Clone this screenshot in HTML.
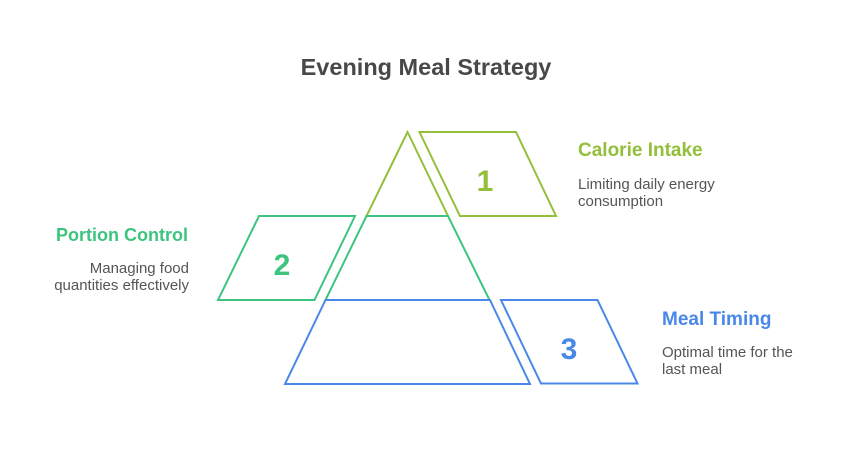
<!DOCTYPE html>
<html><head><meta charset="utf-8"><style>
html,body{margin:0;padding:0;background:#fff;}
svg{display:block;}
text{font-family:"Liberation Sans",Arial,sans-serif;}
</style></head><body>
<svg width="852" height="456" viewBox="0 0 852 456" xmlns="http://www.w3.org/2000/svg">
<rect width="852" height="456" fill="#fff"/>
<text x="426" y="75" text-anchor="middle" font-size="23.5" font-weight="bold" fill="#484848">Evening Meal Strategy</text>

<!-- pyramid -->
<polygon points="407.5,132 448,216 366.5,216" fill="none" stroke="#93BF3A" stroke-width="2" stroke-linejoin="miter"/>
<polygon points="366.5,216 448,216 489.5,300 325.5,300" fill="none" stroke="#3DC47E" stroke-width="2"/>
<polygon points="325.5,300 490,300 530,384 285,384" fill="none" stroke="#4A88E8" stroke-width="2"/>

<!-- parallelograms -->
<polygon points="419.5,132 516,132 556,216 460,216" fill="none" stroke="#93BF3A" stroke-width="2"/>
<polygon points="259,216 355,216 314.5,300 218,300" fill="none" stroke="#3DC47E" stroke-width="2"/>
<polygon points="501,300 597.5,300 637.5,383.5 541,383.5" fill="none" stroke="#4A88E8" stroke-width="2"/>

<text x="485" y="191" text-anchor="middle" font-size="30" font-weight="bold" fill="#93BF3A">1</text>
<text x="282" y="275" text-anchor="middle" font-size="30" font-weight="bold" fill="#3DC47E">2</text>
<text x="569" y="359" text-anchor="middle" font-size="30" font-weight="bold" fill="#4A88E8">3</text>

<text x="578" y="156" font-size="19" font-weight="bold" fill="#93BF3A">Calorie Intake</text>
<text x="578" y="189" font-size="15" fill="#555">Limiting daily energy</text>
<text x="578" y="206" font-size="15" fill="#555">consumption</text>

<text x="188" y="241" text-anchor="end" font-size="18" font-weight="bold" fill="#3DC47E">Portion Control</text>
<text x="189" y="273" text-anchor="end" font-size="15" fill="#555">Managing food</text>
<text x="189" y="290" text-anchor="end" font-size="15" fill="#555">quantities effectively</text>

<text x="662" y="325" font-size="19" font-weight="bold" fill="#4A88E8">Meal Timing</text>
<text x="662" y="357" font-size="15" fill="#555">Optimal time for the</text>
<text x="662" y="374" font-size="15" fill="#555">last meal</text>
</svg>
</body></html>
